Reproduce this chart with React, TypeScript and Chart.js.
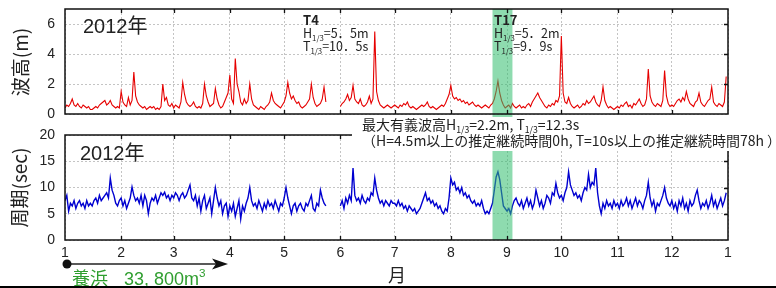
import React, { useEffect, useRef } from "react";
import { Chart, registerables } from "chart.js";
Chart.register(...registerables);

// ---- axis definitions ----
const monthStartDays = [0, 31, 60, 91, 121, 152, 182, 213, 244, 274, 305, 335, 366];
const monthTickLabels = ["1", "2", "3", "4", "5", "6", "7", "8", "9", "10", "11", "12", "1"];
const waveYTicks = [0, 2, 4, 6];
const periodYTicks = [0, 5, 10, 15, 20];
const typhoonBandDays = [236, 247];

// ---- significant wave height (m), daily, 2012 ----
const waveJan = [0.4,0.6,0.5,0.7,1.0,0.6,0.5,0.7,0.5,0.4, 0.6,0.5,0.4,0.5,0.3,0.3,0.4,0.5,0.4,0.6, 0.7,0.8,0.9,0.6,0.7,0.9,0.6,0.5,0.4,0.5, 0.4];
const waveFeb = [1.5,0.8,0.6,0.5,1.1,0.6,0.9,2.8,1.2,0.8, 0.6,0.5,0.4,0.5,0.3,0.4,0.5,0.4,0.5,0.3, 0.4,0.3,0.5,2.0,0.9,1.1,0.6,0.5,0.7];
const waveMar = [0.4,0.6,0.5,0.4,0.8,2.1,1.3,0.8,0.6,0.5, 0.6,0.8,0.5,0.4,0.5,0.4,0.7,2.0,1.2,0.8, 0.5,0.6,0.7,1.7,1.0,0.6,0.4,0.5,0.8,1.1, 1.4];
const waveApr = [2.6,1.0,0.7,3.7,2.0,1.5,0.8,0.6,1.0,0.7, 0.9,2.0,1.0,0.6,0.5,0.4,0.3,0.5,0.4,0.3, 0.5,0.6,0.8,1.4,0.9,0.7,0.6,0.5,0.4,0.6];
const waveMay = [0.8,1.2,2.1,1.4,1.0,1.2,0.9,0.7,0.8,0.5, 0.4,0.5,0.6,0.8,1.0,2.0,1.1,0.7,0.5,0.6, 0.7,1.0,1.8,0.8,null,null,null,null,null,null, null];
const waveJun = [0.5,0.7,0.8,1.0,1.3,0.9,1.1,1.9,1.0,0.8, 0.7,1.0,0.6,0.5,0.6,0.8,1.2,0.7,1.0,5.5, 1.5,0.9,0.6,0.5,0.4,0.5,0.6,0.5,0.4,0.5];
const waveJul = [0.6,0.5,0.4,0.6,0.5,0.7,0.6,0.8,0.5,0.4, 0.5,0.4,0.3,0.4,0.5,0.6,0.5,0.6,0.8,0.5, 0.4,0.5,0.4,0.3,0.4,0.5,0.6,0.5,0.7,1.0, 1.3];
const waveAug = [1.9,1.2,1.0,1.1,0.9,1.0,0.8,0.9,0.7,0.8, 0.6,0.7,0.8,0.6,0.5,0.6,0.5,0.4,0.5,0.6, 0.5,0.4,0.6,0.7,1.0,1.5,2.2,1.4,0.9,0.6, 0.4];
const waveSep = [0.5,0.6,0.4,0.7,0.5,0.4,0.5,0.6,0.4,0.5, 0.4,0.6,0.7,0.5,0.8,1.0,1.2,1.4,1.1,0.9, 0.7,0.5,0.4,0.6,0.5,0.7,0.6,0.9,0.8,1.2];
const waveOct = [5.2,1.4,0.8,0.7,1.1,0.7,0.5,0.4,0.5,0.6, 0.4,0.5,0.7,0.6,0.9,0.7,0.8,1.0,1.2,0.8, 0.6,0.5,0.9,1.8,0.9,0.6,0.4,0.5,0.4,0.3, 0.4];
const waveNov = [0.5,0.4,0.6,0.5,0.7,0.8,0.5,0.6,0.4,0.7, 0.6,0.8,1.0,0.7,0.5,0.6,1.0,3.0,1.2,0.8, 0.6,0.5,0.7,0.6,0.5,0.9,2.9,1.2,0.7,0.5];
const waveDec = [0.6,0.5,0.7,0.9,1.0,0.8,1.1,0.9,1.5,1.0, 0.7,0.6,0.5,0.8,0.9,1.4,0.8,0.6,0.5,0.7, 0.9,1.0,1.8,0.8,0.6,0.5,0.7,0.6,0.5,0.8, 2.5];

// ---- wave period (sec), daily, 2012 ----
const perJan = [7.5,8.5,5.5,7.0,6.5,7.5,6.0,7.0,7.5,6.5, 7.0,6.0,7.5,6.5,7.0,6.5,7.5,8.0,7.0,8.5, 7.5,8.0,8.5,9.0,8.0,11.8,9.5,8.5,7.0,6.5, 7.5];
const perFeb = [8.0,6.5,7.5,6.0,7.0,8.0,10.1,8.5,7.5,8.0, 7.0,8.5,6.5,8.5,7.5,5.0,7.0,8.0,7.5,8.5, 7.0,8.0,9.0,8.5,9.1,8.0,8.5,7.5,8.5];
const perMar = [8.0,9.0,8.5,7.5,8.5,9.0,8.0,8.5,9.5,10.5, 8.0,7.5,8.5,6.5,8.0,5.5,7.5,8.5,6.0,7.0, 8.0,5.0,7.5,10.0,8.0,6.5,7.5,5.0,6.5,7.0, 4.5];
const perApr = [6.5,5.5,7.0,4.5,6.0,7.5,4.0,6.5,5.5,7.0, 8.0,10.0,7.5,6.5,7.0,6.0,7.5,6.5,5.5,7.0, 6.0,7.5,6.5,7.0,6.0,7.5,6.5,5.5,7.0,6.5];
const perMay = [8.0,10.0,8.0,6.5,5.0,6.5,7.0,5.5,6.5,7.0, 6.0,5.5,7.0,6.5,7.5,8.5,6.0,5.5,7.0,6.5, 9.5,8.0,7.0,6.5,null,null,null,null,null,null, null];
const perJun = [6.5,7.5,6.0,8.0,7.0,8.5,7.5,13.7,8.5,7.5, 8.0,7.0,8.5,7.5,7.0,8.0,7.5,9.0,8.5,11.8, 9.5,8.0,7.0,7.5,6.5,7.5,7.0,6.5,7.5,7.0];
const perJul = [7.0,6.5,7.5,6.5,7.0,6.0,6.5,5.5,6.5,6.0, 5.5,6.0,5.0,5.5,6.0,7.0,8.0,9.0,7.5,8.0, 7.0,7.5,6.5,7.0,6.0,6.5,5.5,5.0,6.0,5.5, 8.0];
const perAug = [11.8,10.5,11.0,9.5,10.0,9.0,10.0,8.5,9.0,8.0, 8.5,7.5,7.0,7.5,6.5,7.0,6.5,7.5,6.0,5.0, 5.5,5.0,6.0,7.0,9.5,12.0,13.0,11.5,9.0,6.5, 6.0];
const perSep = [5.5,6.0,5.0,6.5,7.5,8.0,7.0,6.5,7.5,6.0, 7.0,8.0,6.5,7.5,6.0,7.0,9.5,8.0,6.5,7.5, 6.0,7.0,8.5,8.0,7.0,9.0,8.5,10.8,9.0,8.0];
const perOct = [8.5,7.5,9.0,10.0,13.0,10.5,9.5,8.5,9.0,8.0, 8.5,7.5,9.0,10.0,9.5,12.5,10.0,11.0,10.5,13.7, 9.0,6.5,5.0,7.0,6.0,7.5,6.5,7.0,6.0,7.5, 6.5];
const perNov = [7.0,6.0,7.5,6.5,7.0,8.0,6.5,7.5,6.0,7.0, 8.0,6.5,7.5,7.0,6.0,7.5,8.5,11.0,8.0,6.5, 7.5,5.5,7.0,6.5,7.5,8.5,10.0,8.0,7.0,6.5];
const perDec = [7.5,6.0,7.0,5.5,7.5,6.5,8.0,6.0,7.0,5.5, 7.5,6.5,7.0,8.5,9.5,7.5,6.0,7.0,6.5,7.5, 6.0,7.0,8.5,6.5,7.5,6.0,7.0,8.0,6.5,7.5, 9.0];

const waveHeight = [...waveJan, ...waveFeb, ...waveMar, ...waveApr, ...waveMay, ...waveJun, ...waveJul, ...waveAug, ...waveSep, ...waveOct, ...waveNov, ...waveDec];
const wavePeriod = [...perJan, ...perFeb, ...perMar, ...perApr, ...perMay, ...perJun, ...perJul, ...perAug, ...perSep, ...perOct, ...perNov, ...perDec];

const SANS = '"Liberation Sans", "Noto Sans CJK JP", sans-serif';
const JP = '"Noto Sans CJK JP", sans-serif';
const TEXT = "#222";

type Part = [string, "n" | "b" | "s" | "p"];

function drawRich(ctx: CanvasRenderingContext2D, x: number, y: number, parts: Part[], size: number, family: string, color: string) {
  let cx = x;
  ctx.save();
  ctx.fillStyle = color;
  ctx.textAlign = "left";
  ctx.textBaseline = "alphabetic";
  for (const [t, kind] of parts) {
    let s = size;
    let dy = 0;
    let w = "";
    if (kind === "s") { s = size * 0.62; dy = size * 0.2; }
    if (kind === "p") { s = size * 0.65; dy = -size * 0.45; }
    if (kind === "b") w = "bold ";
    ctx.font = `${w}${s}px ${family}`;
    ctx.fillText(t, cx, y + dy);
    cx += ctx.measureText(t).width;
  }
  ctx.restore();
}

function drawBand(chart: any, yTop: number, yBottom: number) {
  const { ctx, scales: { x } } = chart;
  const x1 = x.getPixelForValue(typhoonBandDays[0]);
  const x2 = x.getPixelForValue(typhoonBandDays[1]);
  ctx.save();
  ctx.fillStyle = "rgba(50,190,110,0.55)";
  ctx.fillRect(x1, yTop, x2 - x1, yBottom - yTop);
  ctx.restore();
}

function drawFrame(chart: any, yTicks: number[], ymin: number, ymax: number) {
  const { ctx, chartArea: { left, right, top, bottom }, scales: { x, y } } = chart;
  ctx.save();
  ctx.strokeStyle = "#111";
  ctx.lineWidth = 1.5;
  ctx.strokeRect(left, top, right - left, bottom - top);
  ctx.lineWidth = 1.3;
  ctx.beginPath();
  monthStartDays.slice(1, -1).forEach((d) => {
    const px = Math.round(x.getPixelForValue(d)) + 0.5;
    ctx.moveTo(px, top); ctx.lineTo(px, top + 4);
    ctx.moveTo(px, bottom); ctx.lineTo(px, bottom - 4);
  });
  yTicks.filter((v) => v !== ymin && v !== ymax).forEach((v) => {
    const py = Math.round(y.getPixelForValue(v)) + 0.5;
    ctx.moveTo(right, py); ctx.lineTo(right - 4, py);
  });
  ctx.stroke();
  ctx.restore();
}

function drawYTitle(ctx: CanvasRenderingContext2D, text: string, cx: number, cy: number) {
  ctx.save();
  ctx.translate(cx, cy);
  ctx.rotate(-Math.PI / 2);
  ctx.fillStyle = TEXT;
  ctx.font = `19px ${JP}`;
  ctx.textAlign = "center";
  ctx.textBaseline = "middle";
  ctx.fillText(text, 0, 0);
  ctx.restore();
}

function baseOptions(ymin: number, ymax: number, yTicks: number[], padTop: number, xHeight: number, showX: boolean) {
  return {
    responsive: false,
    animation: false as const,
    devicePixelRatio: 1,
    layout: { padding: { left: 0, right: 48, top: padTop, bottom: 0 } },
    plugins: { legend: { display: false }, tooltip: { enabled: false } },
    scales: {
      x: {
        type: "linear" as const,
        min: 0,
        max: 366,
        afterBuildTicks: (s: any) => { s.ticks = monthStartDays.map((v) => ({ value: v })); },
        afterFit: (s: any) => { s.height = xHeight; s.paddingLeft = 0; s.paddingRight = 0; },
        ticks: {
          display: showX,
          autoSkip: false,
          maxRotation: 0,
          padding: 5,
          color: TEXT,
          font: { family: SANS, size: 14 },
          callback: (_v: any, i: number) => monthTickLabels[i],
        },
        grid: { color: "#c4c4c4", drawTicks: false, lineWidth: 1 },
        border: { display: false, dash: [2, 2] },
      },
      y: {
        min: ymin,
        max: ymax,
        afterBuildTicks: (s: any) => { s.ticks = yTicks.map((v) => ({ value: v })); },
        afterFit: (s: any) => { s.width = 65; s.paddingTop = 0; s.paddingBottom = 0; },
        ticks: { padding: 10, color: TEXT, font: { family: SANS, size: 14 } },
        grid: { color: "#c4c4c4", drawTicks: false, lineWidth: 1 },
        border: { display: false, dash: [2, 2] },
      },
    },
  };
}

export default function App() {
  const topRef = useRef<HTMLCanvasElement>(null);
  const botRef = useRef<HTMLCanvasElement>(null);

  useEffect(() => {
    const topPlugin = {
      id: "topDeco",
      afterDatasetsDraw(chart: any) {
        drawBand(chart, chart.chartArea.top, chart.chartArea.bottom + 3);
      },
      afterDraw(chart: any) {
        const ctx = chart.ctx as CanvasRenderingContext2D;
        drawFrame(chart, waveYTicks, 0, 7);
        drawYTitle(ctx, "波高(m)", 21, 62);
        ctx.save();
        ctx.fillStyle = TEXT;
        ctx.font = `20px ${SANS}`;
        ctx.fillText("2012年", 83, 33);
        ctx.restore();
        drawRich(ctx, 303, 25, [["T4", "b"]], 13, JP, TEXT);
        drawRich(ctx, 303, 38, [["H", "n"], ["1/3", "s"], ["=5．5m", "n"]], 12.5, JP, TEXT);
        drawRich(ctx, 303, 51, [["T", "n"], ["1/3", "s"], ["=10．5s", "n"]], 12.5, JP, TEXT);
        drawRich(ctx, 494, 25, [["T17", "b"]], 13, JP, TEXT);
        drawRich(ctx, 494, 38, [["H", "n"], ["1/3", "s"], ["=5．2m", "n"]], 12.5, JP, TEXT);
        drawRich(ctx, 494, 51, [["T", "n"], ["1/3", "s"], ["=9．9s", "n"]], 12.5, JP, TEXT);
      },
    };

    const botPlugin = {
      id: "botDeco",
      afterDatasetsDraw(chart: any) {
        drawBand(chart, chart.chartArea.top, chart.chartArea.bottom);
      },
      afterDraw(chart: any) {
        const ctx = chart.ctx as CanvasRenderingContext2D;
        drawFrame(chart, periodYTicks, 0, 20);
        // white box behind annotation
        ctx.save();
        ctx.fillStyle = "#fff";
        ctx.fillRect(352, 0, 424, 33);
        ctx.restore();
        drawRich(ctx, 362, 12, [["最大有義波高", "n"], ["H", "n"], ["1/3", "s"], ["=2.2m, ", "n"], ["T", "n"], ["1/3", "s"], ["=12.3s", "n"]], 14, JP, TEXT);
        drawRich(ctx, 362, 28, [["（H=4.5m以上の推定継続時間0h, T=10s以上の推定継続時間78h ）", "n"]], 14, JP, TEXT);
        drawYTitle(ctx, "周期(sec)", 20, 69.5);
        ctx.save();
        ctx.fillStyle = TEXT;
        ctx.font = `20px ${SANS}`;
        ctx.fillText("2012年", 80, 42);
        ctx.font = `18px ${JP}`;
        ctx.textAlign = "center";
        ctx.fillText("月", 397, 164);
        ctx.restore();
        // nourishment period arrow
        ctx.save();
        ctx.fillStyle = "#111";
        ctx.strokeStyle = "#222";
        ctx.lineWidth = 1.6;
        ctx.beginPath();
        ctx.moveTo(67, 146);
        ctx.lineTo(218, 146);
        ctx.stroke();
        ctx.beginPath();
        ctx.arc(67, 146, 4.5, 0, Math.PI * 2);
        ctx.fill();
        ctx.beginPath();
        ctx.moveTo(228, 146);
        ctx.lineTo(212, 140.5);
        ctx.lineTo(216, 146);
        ctx.lineTo(212, 151.5);
        ctx.closePath();
        ctx.fill();
        ctx.restore();
        drawRich(ctx, 72, 167, [["養浜", "n"]], 18, JP, "#2f9e2f");
        drawRich(ctx, 124, 167, [["33, 800m", "n"], ["3", "p"]], 18, SANS, "#2f9e2f");
        ctx.save();
        ctx.fillStyle = "#000";
        ctx.fillRect(0, 168, 776, 2);
        ctx.restore();
      },
    };

    const top = new Chart(topRef.current as HTMLCanvasElement, {
      type: "line",
      data: {
        datasets: [{
          data: waveHeight.map((v, i) => ({ x: i, y: v })) as any,
          borderColor: "#e60000",
          borderWidth: 1.1,
          pointRadius: 0,
          spanGaps: false,
          tension: 0,
        }],
      },
      options: baseOptions(0, 7, waveYTicks, 9, 4, false) as any,
      plugins: [topPlugin],
    });

    const bot = new Chart(botRef.current as HTMLCanvasElement, {
      type: "line",
      data: {
        datasets: [{
          data: wavePeriod.map((v, i) => ({ x: i, y: v })) as any,
          borderColor: "#0000d0",
          borderWidth: 1.4,
          pointRadius: 0,
          spanGaps: false,
          tension: 0,
        }],
      },
      options: baseOptions(0, 20, periodYTicks, 17, 48, true) as any,
      plugins: [botPlugin],
    });

    return () => { top.destroy(); bot.destroy(); };
  }, []);

  return (
    <div style={{ position: "fixed", left: 0, top: 0, width: 776, height: 288, background: "#fff", overflow: "hidden" }}>
      <canvas ref={topRef} width={776} height={118} style={{ position: "absolute", left: 0, top: 0 }} />
      <canvas ref={botRef} width={776} height={170} style={{ position: "absolute", left: 0, top: 118 }} />
    </div>
  );
}
